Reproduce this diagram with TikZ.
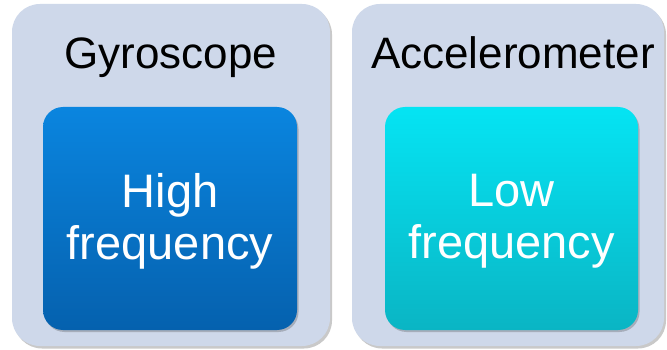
\documentclass[tikz,border=0pt]{standalone}
\usepackage{fontspec}
\setmainfont{Liberation Sans}
\usetikzlibrary{shadows}
\definecolor{outerbg}{HTML}{CED8EA}
\definecolor{gtop}{HTML}{0A85DF}
\definecolor{gbot}{HTML}{0561AE}
\definecolor{atop}{HTML}{05E4F3}
\definecolor{abot}{HTML}{0AB5C4}
\begin{document}
\begin{tikzpicture}[x=1pt,y=-1pt,
  outerbox/.style={fill=outerbg,rounded corners=28pt,
    drop shadow={shadow xshift=2pt,shadow yshift=-2.5pt,opacity=0.35,fill=black!60}},
  innerbox/.style={rounded corners=20pt,
    drop shadow={shadow xshift=1.5pt,shadow yshift=-2pt,opacity=0.3,fill=black!70}},
  titletext/.style={font=\fontsize{44}{50}\selectfont,text=black,anchor=base},
  innertext/.style={font=\fontsize{47}{52}\selectfont,text=white,align=center}]
\useasboundingbox (0,0) rectangle (667,350);
\fill[white] (0,0) rectangle (667,350);
% outer boxes
\path[outerbox] (12,4) rectangle (330,346);
\path[outerbox] (352,4) rectangle (664,346);
\node[titletext] (gyro) at (171,69) {Gyroscope};
\node[titletext] (acc) at (513,69) {Accelerometer};
% inner boxes
\path[innerbox,top color=gtop,bottom color=gbot] (43,107) rectangle (297,330);
\path[innerbox,top color=atop,bottom color=abot] (385,107) rectangle (638,330);
\node[innertext] (high) at (170,221) {High\\frequency};
\node[innertext] (low) at (511.5,221) {Low\\frequency};
\end{tikzpicture}
\end{document}
